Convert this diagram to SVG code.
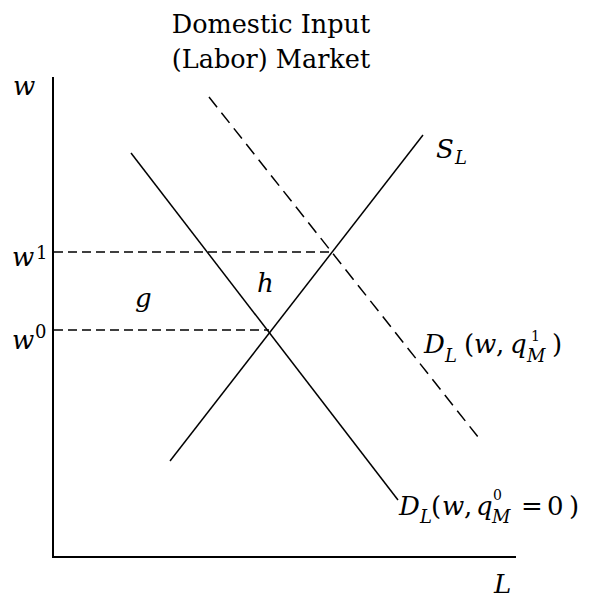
<svg xmlns="http://www.w3.org/2000/svg" width="602" height="599" viewBox="0 0 602 599">
<style>
text{font-family:'DejaVu Serif',serif;fill:#000}
.t{font-size:26px}
.i{font-size:26px;font-style:italic}
.sub{font-size:18px;font-style:italic}
.sup{font-size:18px}
.sup2{font-size:14px}
.ax{stroke:#000;stroke-width:2;fill:none}
.ln{stroke:#000;stroke-width:1.5;fill:none}
.dh{stroke:#000;stroke-width:1.5;fill:none;stroke-dasharray:9 5}
.dd{stroke:#000;stroke-width:1.5;fill:none;stroke-dasharray:13 7}
</style>
<rect width="602" height="599" fill="#fff"/>
<g id="title">
<text x="271" y="33" text-anchor="middle" style="font-size:25.5px">Domestic Input</text>
<text x="271" y="68" text-anchor="middle" style="font-size:25.5px">(Labor) Market</text>
</g>
<g id="axes">
<line class="ax" x1="53" y1="77" x2="53" y2="558"/>
<line class="ax" x1="52" y1="557" x2="516" y2="557"/>
<text class="i" x="13" y="95">w</text>
<text class="i" x="494" y="593">L</text>
</g>
<g id="connectors">
<line class="dh" x1="54" y1="252" x2="331" y2="252"/>
<line class="dh" x1="54" y1="330" x2="269" y2="330"/>
<line class="ln" x1="170" y1="461" x2="423" y2="135"/>
<line class="ln" x1="131" y1="153" x2="398" y2="500"/>
<line class="dd" x1="209" y1="97" x2="482" y2="442"/>
</g>
<g id="w1">
<text class="i" x="12" y="266">w</text>
<text class="sup" x="36" y="259">1</text>
</g>
<g id="w0">
<text class="i" x="12" y="349">w</text>
<text class="sup" x="35" y="338">0</text>
</g>
<g id="g"><text class="i" x="135" y="307">g</text></g>
<g id="h"><text class="i" x="257" y="292">h</text></g>
<g id="SL">
<text class="i" x="436" y="158">S<tspan class="sub" x="455" y="164">L</tspan></text>
</g>
<g id="DL1">
<text class="i" x="424" y="353">D<tspan class="sub" x="445" y="362">L</tspan><tspan class="t" style="font-style:normal" x="464" y="353">(</tspan><tspan x="474" y="353">w</tspan><tspan class="t" style="font-style:normal" x="496" y="353">,</tspan><tspan x="510" y="353">q</tspan><tspan class="sup2" style="font-style:normal" x="531" y="341">1</tspan><tspan class="sub" x="527" y="362">M</tspan><tspan class="t" style="font-style:normal" x="552" y="353">)</tspan></text>
</g>
<g id="DL0">
<text class="i" x="399" y="515">D<tspan class="sub" x="420" y="523">L</tspan><tspan class="t" style="font-style:normal" x="431" y="515">(</tspan><tspan x="442" y="515">w</tspan><tspan class="t" style="font-style:normal" x="464" y="515">,</tspan><tspan x="476" y="515">q</tspan><tspan class="sup2" style="font-style:normal" x="493" y="500">0</tspan><tspan class="sub" x="492" y="523">M</tspan><tspan class="t" style="font-style:normal" x="521" y="515">=</tspan><tspan class="t" style="font-style:normal" x="547" y="515">0</tspan><tspan class="t" style="font-style:normal" x="569" y="515">)</tspan></text>
</g>
</svg>
